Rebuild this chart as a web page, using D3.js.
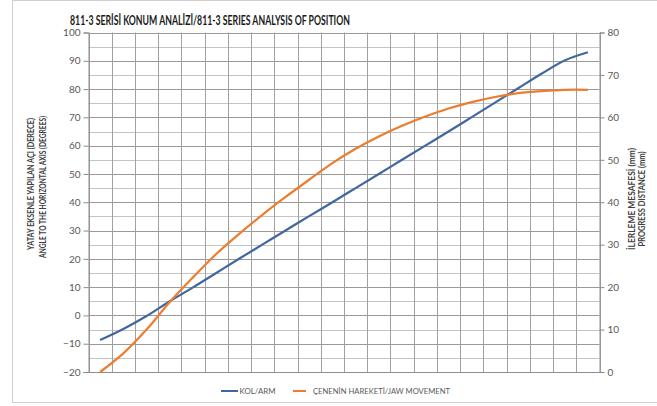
<!DOCTYPE html>
<html>
<head>
  <meta charset="UTF-8">
  <title>811-3 Series Analysis of Position</title>
  <style>
    body { margin: 0; background: #fff; }
    svg { display: block; }
    text { font-family: Lato, "Open Sans", sans-serif; }
  </style>
</head>
<body>
<svg></svg>
<script src="https://d3js.org/d3.v7.min.js"></script>
<script>

let width = 657, height = 406;

// 22 positions along the movement (no labels shown on the chart)
let positions = [1, 2, 3, 4, 5, 6, 7, 8, 9, 10, 11, 12, 13, 14, 15, 16, 17, 18, 19, 20, 21, 22];

// arm angle, degrees (left axis)
let armAngle = [-8.7, -4.8, -0.2, 5.0, 9.9, 15.0, 20.1, 25.1, 30.1, 35.1, 40.0, 45.0, 50.0, 55.0, 60.0, 65.0, 70.1, 75.2, 80.3, 85.4, 90.1, 93.0];

// jaw progress distance, mm (right axis)
let jawDistance = [0, 4.4, 10.0, 16.5, 22.3, 27.8, 32.6, 37.1, 41.3, 45.3, 49.2, 52.6, 55.5, 58.0, 60.2, 62.1, 63.6, 64.8, 65.7, 66.2, 66.5, 66.5];

let leftTicks = [100, 90, 80, 70, 60, 50, 40, 30, 20, 10, 0, -10, -20];
let rightTicks = [80, 70, 60, 50, 40, 30, 20, 10, 0];

let svg = d3.select("svg")
    .attr("width", width)
    .attr("height", height);

// outer chart border
svg.append("rect")
    .attr("x", 12.5).attr("y", 0.5)
    .attr("width", 660).attr("height", 402)
    .attr("fill", "none")
    .attr("stroke", "#d0d0d0");

let plotLeft = 88.5, plotRight = 599.5, plotTop = 32.5, plotBottom = 372;

let x = d3.scaleBand().domain(positions).range([plotLeft, plotRight]).padding(0);
let yL = d3.scaleLinear().domain([-20, 100]).range([plotBottom, plotTop]);
let yR = d3.scaleLinear().domain([0, 80]).range([plotBottom, plotTop]);

// horizontal gridlines every 5 degrees
let gridVals = d3.range(-20, 100.1, 5);
svg.append("g")
  .selectAll("line")
  .data(gridVals)
  .enter()
  .append("line")
    .attr("x1", plotLeft).attr("x2", plotRight)
    .attr("y1", d => Math.round(yL(d)) + 0.5)
    .attr("y2", d => Math.round(yL(d)) + 0.5)
    .attr("stroke", d => d % 10 == 0 ? "#9a9a9a" : "#c4c4c4")
    .attr("stroke-width", 1);

// vertical gridlines at category boundaries
let edges = positions.map(p => x(p)).concat([plotRight]);
svg.append("g")
  .selectAll("line")
  .data(edges)
  .enter()
  .append("line")
    .attr("x1", d => Math.round(d) + 0.5).attr("x2", d => Math.round(d) + 0.5)
    .attr("y1", plotTop).attr("y2", plotBottom)
    .attr("stroke", "#a0a0a0");

// left axis
let leftAxis = svg.append("g")
    .attr("transform", "translate(" + plotLeft + ",0)")
    .call(d3.axisLeft(yL).tickValues(leftTicks).tickSize(5).tickPadding(3));
leftAxis.select(".domain").attr("stroke", "#8c8c8c");
leftAxis.selectAll(".tick line").attr("stroke", "#8c8c8c");
leftAxis.selectAll("text").attr("fill", "#595959").style("font-size", "10px")
    .style("font-family", "Lato, sans-serif");

// right axis
let rightAxis = svg.append("g")
    .attr("transform", "translate(" + plotRight + ",0)")
    .call(d3.axisRight(yR).tickValues(rightTicks).tickSize(5).tickPadding(3));
rightAxis.select(".domain").attr("stroke", "#8c8c8c");
rightAxis.selectAll(".tick line").attr("stroke", "#8c8c8c");
rightAxis.selectAll("text").attr("fill", "#595959").style("font-size", "10px")
    .style("font-family", "Lato, sans-serif");

// bottom axis line
svg.append("line")
    .attr("x1", plotLeft).attr("x2", plotRight)
    .attr("y1", plotBottom + 0.5).attr("y2", plotBottom + 0.5)
    .attr("stroke", "#8c8c8c");

// lines
let cx = d => x(d) + x.bandwidth() / 2;

let armLine = d3.line()
    .x((d, i) => cx(positions[i]))
    .y(d => yL(d))
    .curve(d3.curveCatmullRom.alpha(0.5));

let jawLine = d3.line()
    .x((d, i) => cx(positions[i]))
    .y(d => yR(d))
    .curve(d3.curveCatmullRom.alpha(0.5));

svg.append("path")
    .datum(armAngle)
    .attr("d", armLine)
    .attr("fill", "none")
    .attr("stroke", "#41679e")
    .attr("stroke-width", 2.2);

svg.append("path")
    .datum(jawDistance)
    .attr("d", jawLine)
    .attr("fill", "none")
    .attr("stroke", "#ec7d2e")
    .attr("stroke-width", 2.2);

// title
svg.append("text")
    .attr("x", 70).attr("y", 25)
    .attr("textLength", 280).attr("lengthAdjust", "spacingAndGlyphs")
    .style("font-size", "13.5px").style("font-weight", "bold")
    .attr("fill", "#1a1a1a")
    .text("811-3 SERİSİ KONUM ANALİZİ/811-3 SERIES ANALYSIS OF POSITION");

// rotated axis titles
function vTitle(tx, ty, len, label) {
  svg.append("text")
    .attr("transform", "translate(" + tx + "," + ty + ") rotate(-90)")
    .attr("text-anchor", "middle")
    .attr("dominant-baseline", "central")
    .attr("textLength", len).attr("lengthAdjust", "spacingAndGlyphs")
    .style("font-size", "8.5px").style("font-weight", "bold")
    .attr("fill", "#404040")
    .text(label);
}
vTitle(31, 184, 132, "YATAY EKSENLE YAPILAN AÇI (DERECE)");
vTitle(43, 187, 142, "ANGLE TO THE HORIZONTAL AXIS  (DEGREES)");
vTitle(632, 199, 102, "İLERLEME MESAFESİ  (mm)");
vTitle(642, 199, 95, "PROGRESS DISTANCE (mm)");

// legend
let legendY = 391;
svg.append("line").attr("x1", 221).attr("x2", 238).attr("y1", legendY).attr("y2", legendY)
    .attr("stroke", "#41679e").attr("stroke-width", 2);
svg.append("text").attr("x", 239.5).attr("y", legendY).attr("dominant-baseline", "central")
    .attr("textLength", 36).attr("lengthAdjust", "spacingAndGlyphs")
    .style("font-size", "8px").attr("fill", "#595959").text("KOL/ARM");
svg.append("line").attr("x1", 293).attr("x2", 306).attr("y1", legendY).attr("y2", legendY)
    .attr("stroke", "#ec7d2e").attr("stroke-width", 2);
svg.append("text").attr("x", 313).attr("y", legendY).attr("dominant-baseline", "central")
    .attr("textLength", 137).attr("lengthAdjust", "spacingAndGlyphs")
    .style("font-size", "8px").attr("fill", "#595959").text("ÇENENİN  HAREKETİ/JAW  MOVEMENT");

</script>
</body>
</html>
